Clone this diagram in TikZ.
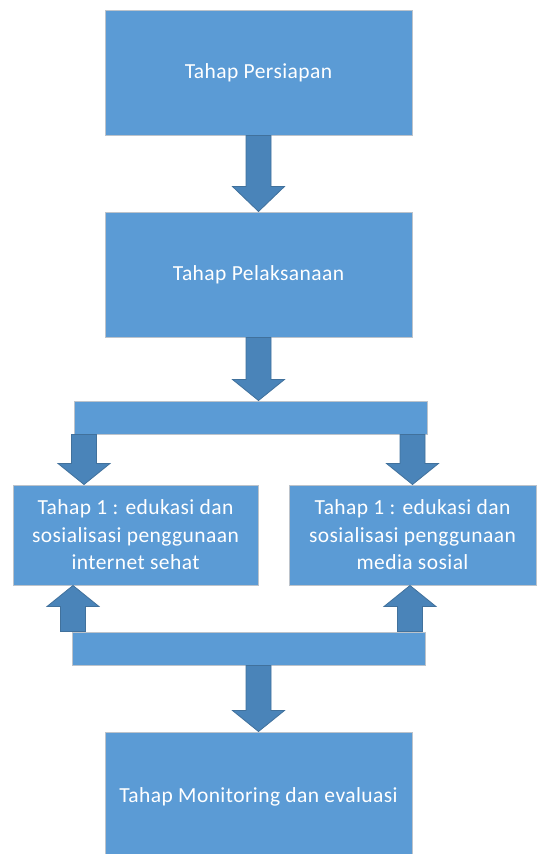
\documentclass[tikz,border=0pt]{standalone}
\usepackage{fontspec}
\setmainfont{Carlito}[LetterSpace=2]
\usetikzlibrary{positioning,calc}
\definecolor{boxblue}{HTML}{5B9BD5}
\definecolor{boxedge}{HTML}{BCC3CB}
\definecolor{arrowblue}{HTML}{4A84B9}
\definecolor{arrowedge}{HTML}{41719C}
\newcommand{\blkarrow}[3][21pt]{%
  \draw[blk] let \p1=(#2), \p2=(#3), \n1={sign(\y1-\y2)} in
    (\x1-12.5pt,\y1) -- (\x1+12.5pt,\y1) -- (\x1+12.5pt,\y2+\n1*#1)
    -- (\x1+26pt,\y2+\n1*#1) -- (\x1,\y2) -- (\x1-26pt,\y2+\n1*#1)
    -- (\x1-12.5pt,\y2+\n1*#1) -- cycle;}

\begin{document}
\begin{tikzpicture}[x=1pt, y=-1pt,
    stage/.style={draw=boxedge, line width=1pt, fill=boxblue, text=white,
      font=\fontsize{21.5pt}{27.5pt}\selectfont, align=center,
      inner sep=0pt, minimum width=307pt, minimum height=125pt},
    bar/.style={draw=boxedge, line width=1pt, fill=boxblue,
      minimum width=353pt, minimum height=33pt, inner sep=0pt},
    blk/.style={draw=arrowedge, line width=0.8pt, fill=arrowblue}]
  \useasboundingbox[fill=white] (0,0) rectangle (536,854);

  \node[stage] (persiapan) at (258.5,72.5) {Tahap Persiapan};
  \node[stage] (pelaksanaan) [below=76pt of persiapan] {Tahap Pelaksanaan};
  \node[bar] (splitbar) at (250.5,417.5) {};
  \node[stage, minimum width=245pt, minimum height=100pt] (internet) at (135.5,535)
    {Tahap 1 : edukasi dan\\sosialisasi penggunaan\\internet sehat};
  \node[stage, minimum width=247pt, minimum height=100pt] (medsos) at (412.5,535)
    {Tahap 1 : edukasi dan\\sosialisasi penggunaan\\media sosial};
  \node[bar] (joinbar) at (248.5,648.5) {};
  \node[stage, minimum height=130pt] (monev) at (258.5,797) {Tahap Monitoring dan evaluasi};

  \coordinate (sL) at ([xshift=10.5pt]splitbar.south west);
  \coordinate (jL) at ([xshift=1.5pt]joinbar.north west);
  \coordinate (jR) at ([xshift=-15.5pt]joinbar.north east);

  \blkarrow[25pt]{persiapan.south}{pelaksanaan.north}
  \blkarrow{pelaksanaan.south}{pelaksanaan.south |- splitbar.north}
  \blkarrow{sL}{sL |- internet.north}
  \blkarrow{splitbar.south -| medsos.north}{medsos.north}
  \blkarrow{jL}{jL |- internet.south}
  \blkarrow{jR}{jR |- medsos.south}
  \blkarrow{joinbar.south -| monev.north}{monev.north}
\end{tikzpicture}
\end{document}
